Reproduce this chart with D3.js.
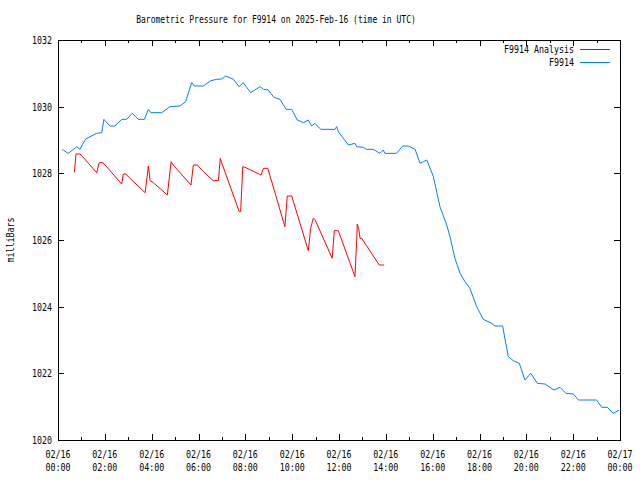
<!DOCTYPE html>
<html><head><meta charset="utf-8">
<script src="https://cdn.jsdelivr.net/npm/d3@7/dist/d3.min.js"></script>
<style>
body{margin:0;background:#fff;}
text{font-family:"DejaVu Sans Mono","Liberation Mono",monospace;font-size:10.5px;fill:#000;}
</style></head>
<body><svg id="c" width="640" height="480"></svg>
<script>
const title = "Barometric Pressure for F9914 on 2025-Feb-16 (time in UTC)";
const yLabel = "milliBars";
const yTicks = [1020,1022,1024,1026,1028,1030,1032];
const xMajorHours = [0,2,4,6,8,10,12,14,16,18,20,22,24];
const xTickLabels1 = ["02/16","02/16","02/16","02/16","02/16","02/16","02/16","02/16","02/16","02/16","02/16","02/16","02/17"];
const xTickLabels2 = ["00:00","02:00","04:00","06:00","08:00","10:00","12:00","14:00","16:00","18:00","20:00","22:00","00:00"];
const seriesNames = ["F9914 Analysis","F9914"];

// hours since 02/16 00:00 UTC
const obsHours = [0.18,0.44,0.80,0.94,1.18,1.65,1.87,1.96,2.22,2.43,2.72,2.93,3.17,3.43,3.69,3.86,3.97,4.43,4.78,5.21,5.45,5.71,5.82,6.20,6.53,6.78,6.99,7.17,7.49,7.74,7.91,8.23,8.63,8.77,8.98,9.22,9.48,9.74,9.98,10.22,10.48,10.69,10.83,10.97,11.22,11.83,11.90,11.97,12.40,12.68,12.76,13.04,13.18,13.46,13.75,13.89,13.96,14.46,14.72,14.96,15.25,15.46,15.60,15.75,16.03,16.31,16.60,16.74,16.95,17.17,17.38,17.59,17.88,18.16,18.52,18.66,18.99,19.09,19.23,19.44,19.70,19.94,20.19,20.47,20.80,21.18,21.44,21.69,22.01,22.22,23.00,23.22,23.46,23.71,23.97];
const obsPressure = [1028.72,1028.60,1028.80,1028.72,1029.03,1029.20,1029.22,1029.62,1029.42,1029.42,1029.62,1029.62,1029.80,1029.62,1029.62,1029.92,1029.82,1029.82,1030.00,1030.02,1030.15,1030.72,1030.62,1030.62,1030.78,1030.82,1030.83,1030.92,1030.82,1030.60,1030.72,1030.42,1030.60,1030.52,1030.50,1030.28,1030.22,1029.92,1029.92,1029.60,1029.52,1029.60,1029.42,1029.50,1029.32,1029.32,1029.40,1029.25,1028.85,1028.90,1028.80,1028.78,1028.72,1028.72,1028.60,1028.70,1028.60,1028.60,1028.82,1028.82,1028.72,1028.30,1028.35,1028.40,1027.90,1027.00,1026.45,1026.10,1025.45,1025.00,1024.75,1024.55,1024.00,1023.62,1023.50,1023.42,1023.42,1023.02,1022.50,1022.38,1022.30,1021.80,1022.00,1021.70,1021.68,1021.50,1021.58,1021.40,1021.38,1021.20,1021.20,1020.98,1020.98,1020.80,1020.90];

const anaHours = [0.70,0.77,0.94,1.05,1.65,1.76,1.91,2.01,2.72,2.79,2.90,3.00,3.72,3.86,3.93,4.07,4.67,4.83,4.92,5.68,5.78,5.95,6.21,6.63,6.85,6.93,6.99,7.74,7.80,7.89,7.99,8.67,8.77,8.96,9.69,9.79,9.98,10.69,10.79,10.90,10.97,11.71,11.80,11.97,12.68,12.76,12.78,12.84,12.90,12.97,13.72,13.93];
const anaPressure = [1028.03,1028.58,1028.58,1028.50,1028.02,1028.32,1028.32,1028.25,1027.68,1027.98,1027.98,1027.90,1027.42,1028.22,1027.78,1027.72,1027.35,1028.35,1028.25,1027.65,1028.25,1028.25,1028.05,1027.78,1027.78,1028.45,1028.32,1026.85,1026.85,1028.20,1028.18,1027.95,1028.15,1028.15,1026.40,1027.32,1027.32,1025.68,1026.35,1026.65,1026.62,1025.45,1026.28,1026.28,1024.90,1026.05,1026.48,1026.35,1026.05,1026.05,1025.25,1025.25];

const colors = ["#ff0000","#0080ff"];
const svg = d3.select("#c");
const L=58,R=620,T=40,B=440;
const x = d3.scaleLinear().domain([0,24]).range([L,R]);
const y = d3.scaleLinear().domain([1020,1032]).range([B,T]);
const minorHours = d3.range(0,25,1);

function monoText(g, str, px){ // approximate gnuplot pixel font width
  return g.text(str).attr("textLength", str.length*px).attr("lengthAdjust","spacingAndGlyphs");
}

// axes with inward ticks
svg.append("g").attr("transform",`translate(0,${B})`)
  .call(d3.axisBottom(x).tickValues(minorHours).tickSize(-3).tickFormat(""))
  .call(g=>g.select(".domain").remove());
svg.append("g").attr("transform",`translate(0,${B})`)
  .call(d3.axisBottom(x).tickValues(xMajorHours).tickSize(-6).tickFormat(""))
  .call(g=>g.select(".domain").remove());
svg.append("g").attr("transform",`translate(0,${T})`)
  .call(d3.axisTop(x).tickValues(minorHours).tickSize(-3).tickFormat(""))
  .call(g=>g.select(".domain").remove());
svg.append("g").attr("transform",`translate(0,${T})`)
  .call(d3.axisTop(x).tickValues(xMajorHours).tickSize(-6).tickFormat(""))
  .call(g=>g.select(".domain").remove());
svg.append("g").attr("transform",`translate(${L},0)`)
  .call(d3.axisLeft(y).tickValues(yTicks).tickSize(-6).tickFormat(""))
  .call(g=>g.select(".domain").remove());
svg.append("g").attr("transform",`translate(${R},0)`)
  .call(d3.axisRight(y).tickValues(yTicks).tickSize(-6).tickFormat(""))
  .call(g=>g.select(".domain").remove());
svg.selectAll(".tick line").attr("stroke","#000").attr("shape-rendering","crispEdges");

svg.append("rect").attr("x",L).attr("y",T).attr("width",R-L).attr("height",B-T)
  .attr("fill","none").attr("stroke","#000").attr("shape-rendering","crispEdges");

// y tick labels
yTicks.forEach(v=>{
  monoText(svg.append("text").attr("x",52).attr("y",y(v)+4).attr("text-anchor","end"), String(v), 5);
});
// x tick labels
xMajorHours.forEach((h,i)=>{
  monoText(svg.append("text").attr("x",x(h)).attr("y",458).attr("text-anchor","middle"), xTickLabels1[i], 5);
  monoText(svg.append("text").attr("x",x(h)).attr("y",471).attr("text-anchor","middle"), xTickLabels2[i], 5);
});
// title
monoText(svg.append("text").attr("x",276).attr("y",23).attr("text-anchor","middle"), title, 4.82);
// y label
monoText(svg.append("text").attr("transform","translate(14,240) rotate(-90)").attr("text-anchor","middle"), yLabel, 5);

// lines
const line = d3.line().x(d=>x(d[0])).y(d=>y(d[1]));
const ana = anaHours.map((h,i)=>[h,anaPressure[i]]);
const obs = obsHours.map((h,i)=>[h,obsPressure[i]]);
svg.append("path").datum(obs).attr("d",line).attr("fill","none").attr("stroke",colors[1]).attr("stroke-width",1);
svg.append("path").datum(ana).attr("d",line).attr("fill","none").attr("stroke",colors[0]).attr("stroke-width",1);

// legend
seriesNames.forEach((n,i)=>{
  const yy = 53 + i*13;
  monoText(svg.append("text").attr("x",574).attr("y",yy).attr("text-anchor","end"), n, 5);
  svg.append("line").attr("x1",580).attr("x2",610).attr("y1",yy-4).attr("y2",yy-4)
    .attr("stroke",colors[i]).attr("stroke-width",1).attr("shape-rendering","crispEdges");
});
</script></body></html>
